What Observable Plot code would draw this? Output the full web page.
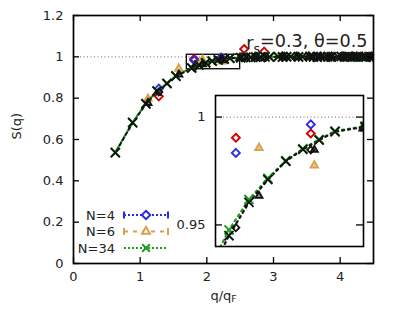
<!DOCTYPE html>
<html><head><meta charset="utf-8">
<script src="https://cdn.jsdelivr.net/npm/d3@7"></script>
<script src="https://cdn.jsdelivr.net/npm/@observablehq/plot@0.6"></script>
<style>
body{margin:0;background:#fff;}
#wrap{position:relative;width:399px;height:330px;overflow:hidden;}
#wrap svg{position:absolute;background:transparent;}
</style></head><body><div id="wrap"></div>
<script>
// ---------------- data ----------------
// N=34 (green and black companion series)
const q34 = [0.627,0.887,1.086,1.254,1.402,1.536,1.773,1.881,1.983,2.080,2.172,2.260,2.346,2.508,2.585,2.660,2.733,2.804,2.873,2.940,3.070,3.135,3.197,3.258,3.376,3.434,3.547,3.600,3.656,3.709,3.762,3.814,3.865,3.966,4.015,4.063,4.111,4.159,4.206,4.252,4.344,4.389,4.433,4.478];
const S34black = [0.536,0.681,0.772,0.834,0.870,0.906,0.945,0.9605,0.971,0.9795,0.985,0.9893,0.9932,0.9955,0.998,0.997,0.999,0.998,1.000,0.999,1.001,0.999,1.000,1.001,0.999,1.000,1.002,1.000,0.999,1.001,1.000,1.001,0.999,1.000,1.002,1.000,1.001,0.999,1.000,1.001,1.000,0.999,1.001,1.000];
const S34green = [0.538,0.683,0.774,0.836,0.872,0.908,0.9477,0.9618,0.9716,0.9798,0.9853,0.9896,0.9935,0.9958,0.997,0.998,0.998,0.999,1.001,1.000,1.000,1.000,1.001,1.000,1.000,1.001,1.001,0.999,1.000,1.000,1.001,1.000,1.000,1.001,1.001,0.999,1.000,1.000,1.001,1.000,0.999,1.000,1.000,1.001];
// N=4
const q4 = [1.28,1.81,2.215,2.56,2.86,3.135,3.62,3.84,4.05,4.245,4.435];
const S4blue = [0.846,0.9834,0.9966,1.000,0.999,1.001,1.000,0.998,1.001,1.000,0.999];
const S4red = [0.809,0.9904,0.9924,1.038,1.025,1.002,0.999,1.001,1.000,1.002,1.000];
const S4black = [0.830,0.9487,0.9848,0.997,0.999,1.000,1.000,0.999,1.000,1.000,1.000];
// N=6
const q6 = [1.117,1.58,1.935,2.234,2.497,2.736,3.16,3.35,3.53,3.70,3.87,4.03,4.18,4.33,4.468];
const S6orange = [0.797,0.943,0.9857,0.9776,0.9958,1.001,0.999,1.000,1.002,0.999,1.000,1.001,1.000,0.999,1.000];
const S6black = [0.777,0.914,0.9635,0.9848,0.9947,0.998,0.999,1.000,1.000,1.000,1.000,1.000,1.000,1.000,1.000];
// axes
const xTicks = [0,1,2,3,4];
const yTicks = [0,0.2,0.4,0.6,0.8,1,1.2];
const yTickLabels = ["0","0.2","0.4","0.6","0.8","1","1.2"];
const xDomain = [0,4.5], yDomain = [0,1.2];
const insetX = [1.7,2.5], insetY = [0.94,1.01];
const insetYTicks = [0.95,1];
const insetYTickLabels = ["0.95","1"];
const legendNames = ["N=4","N=6","N=34"];
const xLabel = "q/qF", yLabel = "S(q)", title = "rs=0.3, θ=0.5";

// ---------------- styling ----------------
const C = {blue:"#2a2ae6", red:"#d40000", orange:"#d9a04c", green:"#1d9c1d", black:"#111"};
const FONT = '"DejaVu Sans", sans-serif';
const mk = (qs, ss) => qs.map((q,i)=>({q, s: ss[i]}));
const g34 = mk(q34,S34green), b34 = mk(q34,S34black);
const blue4 = mk(q4,S4blue), red4 = mk(q4,S4red), blk4 = mk(q4,S4black);
const or6 = mk(q6,S6orange), blk6 = mk(q6,S6black);

function dataMarks(clip){
  return [
    Plot.dot(red4,{x:"q",y:"s",symbol:"diamond2",r:3.6,stroke:C.red,strokeWidth:1.9,clip}),
    Plot.dot(blue4,{x:"q",y:"s",symbol:"diamond2",r:3.6,stroke:C.blue,strokeWidth:1.9,clip}),
    Plot.dot(or6,{x:"q",y:"s",symbol:"triangle2",r:3.6,stroke:C.orange,fill:C.orange,fillOpacity:0.6,strokeWidth:1.8,clip}),
    Plot.line(g34,{x:"q",y:"s",stroke:C.green,strokeWidth:2.2,strokeDasharray:"2,4",clip}),
    Plot.line(b34,{x:"q",y:"s",stroke:C.black,strokeWidth:2.2,strokeDasharray:"2,4",strokeDashoffset:3,clip}),
    Plot.dot(g34,{x:"q",y:"s",symbol:"times",r:4.2,stroke:C.green,strokeWidth:2,clip}),
    Plot.dot(blk4,{x:"q",y:"s",symbol:"diamond2",r:3.2,stroke:C.black,strokeWidth:1.8,clip}),
    Plot.dot(blk6,{x:"q",y:"s",symbol:"triangle2",r:3.4,stroke:C.black,fill:C.black,fillOpacity:0.5,strokeWidth:1.8,clip}),
    Plot.dot(b34,{x:"q",y:"s",symbol:"times",r:4.2,stroke:C.black,strokeWidth:1.8,clip})
  ];
}

// ---------------- main plot ----------------
const W=399,H=330,mL=73,mR=26,mT=15,mB=67;
const pw=W-mL-mR, ph=H-mT-mB, tl=6;
const main = Plot.plot({
  width:W, height:H, marginLeft:mL, marginRight:mR, marginTop:mT, marginBottom:mB,
  style:{fontFamily:FONT, fontSize:"13px", background:"transparent", color:"#222"},
  x:{domain:xDomain}, y:{domain:yDomain},
  marks:[
    Plot.ruleY([1],{stroke:"#888",strokeWidth:1.2,strokeDasharray:"1,2.5",insetLeft:7,insetRight:7}),
    Plot.rect([{x1:insetX[0],x2:insetX[1],y1:insetY[0],y2:insetY[1]}],{x1:"x1",x2:"x2",y1:"y1",y2:"y2",stroke:"black",strokeWidth:1.3,fill:"none"}),
    ...dataMarks(true),
    Plot.tickX(xTicks,{x:d=>d,insetTop:ph-tl,stroke:"black",strokeWidth:1.3}),
    Plot.tickX(xTicks,{x:d=>d,insetBottom:ph-tl,stroke:"black",strokeWidth:1.3}),
    Plot.tickY(yTicks,{y:d=>d,insetRight:pw-tl,stroke:"black",strokeWidth:1.3}),
    Plot.tickY(yTicks,{y:d=>d,insetLeft:pw-tl,stroke:"black",strokeWidth:1.3}),
    Plot.axisX(xTicks,{tickSize:0,tickPadding:8,tickFormat:d=>String(d),label:null,fontSize:13}),
    Plot.axisY(yTicks,{tickSize:0,tickPadding:10,tickFormat:(d,i)=>yTickLabels[i],label:null,fontSize:13}),
    Plot.frame({stroke:"black",strokeWidth:1.7}),
    Plot.text([xLabel],{frameAnchor:"bottom",dy:40,text:d=>d,fontSize:13,fill:"#222"}),
    Plot.text([yLabel],{frameAnchor:"left",dx:-57,rotate:-90,text:d=>d,fontSize:13,fill:"#222"}),
    Plot.text([title],{frameAnchor:"top-right",dx:-6,dy:26,text:d=>d,fontSize:17.6,textAnchor:"end",fill:"#222"})
  ]
});
main.style.left="0px"; main.style.top="0px";
document.getElementById("wrap").appendChild(main);

// ---------------- inset ----------------
const iL=215, iR=363, iT=95, iB=246;
const imL=40, imR=4, imT=5, imB=5;
const iw=iR-iL, ih=iB-iT, itl=7;
const inset = Plot.plot({
  width:iw+imL+imR, height:ih+imT+imB, marginLeft:imL, marginRight:imR, marginTop:imT, marginBottom:imB,
  style:{fontFamily:FONT, fontSize:"13px", background:"transparent", color:"#222"},
  x:{domain:insetX, axis:null}, y:{domain:insetY},
  marks:[
    Plot.frame({fill:"white"}),
    Plot.ruleY([1],{stroke:"#888",strokeWidth:1.2,strokeDasharray:"1,2.5",insetLeft:itl+1,insetRight:itl+1}),
    ...dataMarks(true),
    Plot.tickY(insetYTicks,{y:d=>d,insetRight:iw-itl,stroke:"black",strokeWidth:1.3}),
    Plot.tickY(insetYTicks,{y:d=>d,insetLeft:iw-itl,stroke:"black",strokeWidth:1.3}),
    Plot.axisY(insetYTicks,{tickSize:0,tickPadding:10,tickFormat:(d,i)=>insetYTickLabels[i],label:null,fontSize:13}),
    Plot.frame({stroke:"black",strokeWidth:1.6})
  ]
});
inset.style.left=(iL-imL)+"px"; inset.style.top=(iT-imT)+"px";
document.getElementById("wrap").appendChild(inset);

// ---------------- subscripts ----------------
function subscriptify(svg, full, parts){
  d3.select(svg).selectAll("text").filter(function(){return this.textContent===full;}).each(function(){
    const t=d3.select(this); const tx=t.select("tspan").empty()?t:t.select("tspan");
    tx.text(null);
    parts.forEach(([s,sub])=>{
      tx.append("tspan").attr("font-size",sub?"0.72em":null).attr("dy",sub?"0.3em":(tx.selectAll("tspan").size()>0?"-0.3em":null)).text(s);
    });
  });
}
subscriptify(main, xLabel, [["q/q",false],["F",true]]);
subscriptify(main, title, [["r",false],["s",true],["=0.3, θ=0.5",false]]);

// ---------------- legend ----------------
const leg = d3.select("#wrap").append("svg").attr("width",W).attr("height",H).style("left","0px").style("top","0px")
  .style("font-family",FONT).style("font-size","13px");
const legRows = [
  {name:legendNames[0], color:C.blue, sym:d3.symbolDiamond2, dash:"2,2", caps:true},
  {name:legendNames[1], color:C.orange, sym:d3.symbolTriangle2, dash:"4,5", caps:true},
  {name:legendNames[2], color:C.green, sym:d3.symbolTimes, dash:"2,2", caps:false}
];
const lx0=124, lx1=168, lmx=146, lTextX=115, lY0=215, lDy=16.5;
legRows.forEach((r,i)=>{
  const y=lY0+i*lDy;
  leg.append("text").attr("x",lTextX).attr("y",y).attr("dy","0.35em").attr("text-anchor","end").attr("fill","#222").text(r.name);
  leg.append("line").attr("x1",lx0).attr("x2",lx1).attr("y1",y).attr("y2",y).attr("stroke",r.color).attr("stroke-width",2).attr("stroke-dasharray",r.dash);
  if(r.caps){
    [lx0,lx1].forEach(x=>leg.append("line").attr("x1",x).attr("x2",x).attr("y1",y-3.5).attr("y2",y+3.5).attr("stroke",r.color).attr("stroke-width",2));
  }
  leg.append("path").attr("d",d3.symbol(r.sym, r.sym===d3.symbolTimes?40:45)()).attr("transform",`translate(${lmx},${y})`)
    .attr("fill","white").attr("stroke",r.color).attr("stroke-width",2);
});
</script></body></html>
